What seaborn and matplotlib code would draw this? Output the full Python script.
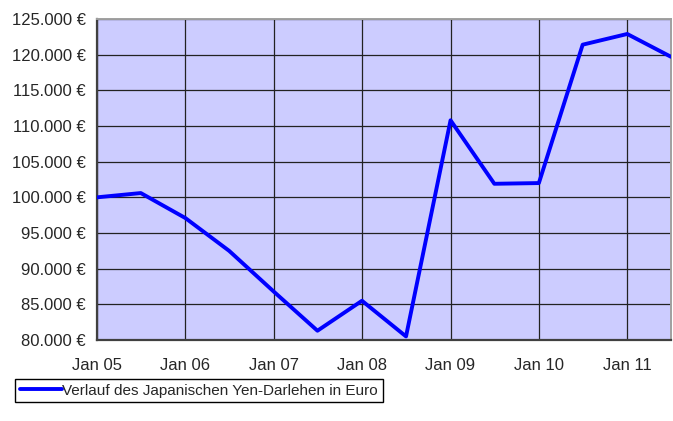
import pandas as pd
import seaborn as sns
import matplotlib.pyplot as plt
import matplotlib.ticker as mticker

# half-yearly value of the yen loan in euro
dates = ['2005-01-01', '2005-07-01', '2006-01-01', '2006-07-01', '2007-01-01',
         '2007-07-01', '2008-01-01', '2008-07-01', '2009-01-01', '2009-07-01',
         '2010-01-01', '2010-07-01', '2011-01-01', '2011-07-01']
werte = [100000, 100600, 97100, 92500, 86800, 81300, 85500,
         80500, 110800, 101900, 102000, 121400, 122900, 119700]
tick_dates = ['2005-01-01', '2006-01-01', '2007-01-01', '2008-01-01',
              '2009-01-01', '2010-01-01', '2011-01-01']
tick_labels = ['Jan 05', 'Jan 06', 'Jan 07', 'Jan 08', 'Jan 09', 'Jan 10', 'Jan 11']
serie = 'Verlauf des Japanischen Yen-Darlehen in Euro'

df = pd.DataFrame({'Datum': pd.to_datetime(dates), 'Wert': werte})

sns.set_style('white')
plt.rcParams['font.family'] = ['Liberation Sans', 'DejaVu Sans']

fig = plt.figure(figsize=(6.73, 4.21), dpi=100)
ax = fig.add_axes([97 / 673, 81 / 421, 574 / 673, 321 / 421])
ax.set_facecolor('#CCCCFF')

sns.lineplot(data=df, x='Datum', y='Wert', color='#0000FF', linewidth=2.8,
             label=serie, ax=ax, zorder=3)

ax.set_xlim(pd.Timestamp('2005-01-01'), pd.Timestamp('2011-07-01'))
ax.set_ylim(80000, 125000)
ax.set_xticks(pd.to_datetime(tick_dates))
ax.set_xticklabels(tick_labels)
ax.yaxis.set_major_locator(mticker.MultipleLocator(5000))
ax.yaxis.set_major_formatter(mticker.FuncFormatter(
    lambda v, p: f'{int(v):,}'.replace(',', '.') + ' €'))

ax.grid(True, color='#222222', linewidth=0.9)
ax.set_axisbelow(True)
ax.tick_params(axis='both', direction='out', width=1,
               color='#333333', labelsize=12)
ax.tick_params(axis='y', length=5, pad=3)
ax.tick_params(axis='x', length=4, pad=9)
ax.set_xlabel('')
ax.set_ylabel('')

for side in ['left', 'bottom']:
    ax.spines[side].set_color('#404040')
    ax.spines[side].set_linewidth(1.6)
for side in ['top', 'right']:
    ax.spines[side].set_color('#A0A0A0')
    ax.spines[side].set_linewidth(1.4)

ax.legend(loc='upper left', bbox_to_anchor=(15 / 673, 1 - 379 / 421),
          bbox_transform=fig.transFigure, fontsize=11, frameon=True,
          fancybox=False, edgecolor='black', framealpha=1,
          handlelength=2.8, handletextpad=0.0, borderpad=0.3,
          borderaxespad=0)

fig.savefig('out.png', dpi=100)
